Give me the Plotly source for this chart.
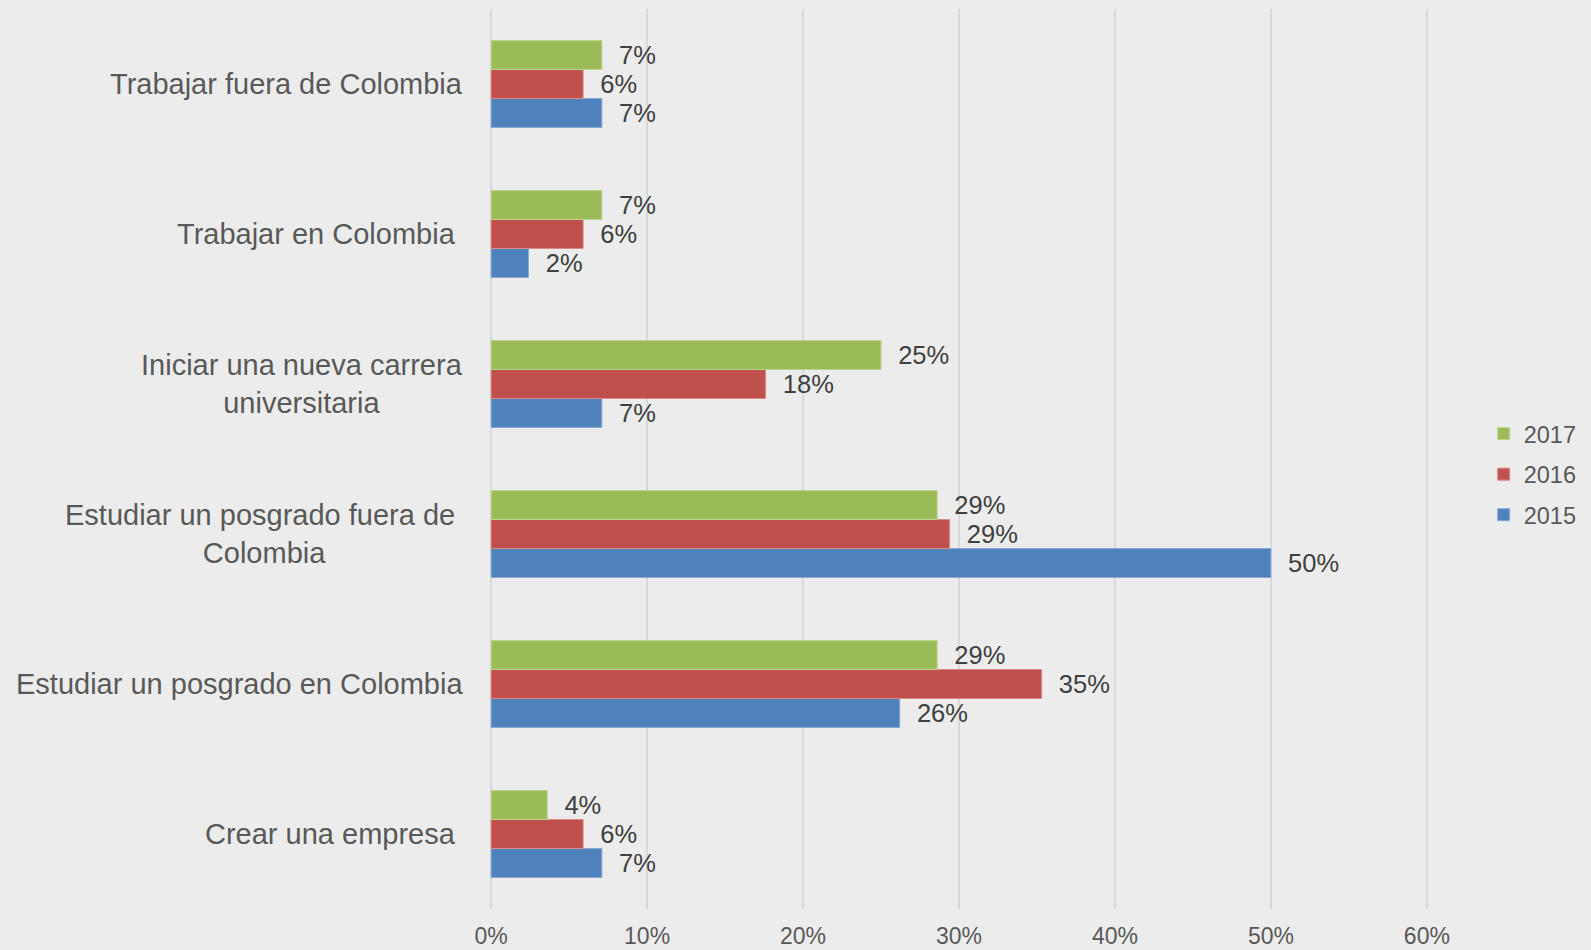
import plotly.graph_objects as go

categories = [
    "Crear una empresa",
    "Estudiar un posgrado en Colombia",
    "Estudiar un posgrado fuera de Colombia",
    "Iniciar una nueva carrera universitaria",
    "Trabajar en Colombia",
    "Trabajar fuera de Colombia",
]
label_text = [
    "Crear una empresa\u00a0",
    "Estudiar un posgrado en Colombia",
    "Estudiar un posgrado fuera de\u00a0<br>Colombia",
    "Iniciar una nueva carrera<br>universitaria",
    "Trabajar en Colombia\u00a0",
    "Trabajar fuera de Colombia",
]
v2015 = [7.1, 26.2, 50.0, 7.1, 2.4, 7.1]
v2016 = [5.9, 35.3, 29.4, 17.6, 5.9, 5.9]
v2017 = [3.6, 28.6, 28.6, 25.0, 7.1, 7.1]
x_ticks = [0, 10, 20, 30, 40, 50, 60]
x_tick_text = ["0%", "10%", "20%", "30%", "40%", "50%", "60%"]

FONT = "Liberation Sans, Arial, sans-serif"
BG = "#ececec"

series = [
    ("2015", v2015, "#4F81BD", "#8aa9d3", 3),
    ("2016", v2016, "#C0504D", "#d88b89", 2),
    ("2017", v2017, "#9BBB59", "#bcd38f", 1),
]

fig = go.Figure()
for name, vals, col, lcol, rank in series:
    fig.add_trace(go.Bar(
        y=categories, x=vals, name=name, orientation="h",
        marker=dict(color=col, line=dict(color=lcol, width=1)),
        text=vals, texttemplate="\u00a0\u00a0%{x:.0f}%",
        textposition="outside", constraintext="none", cliponaxis=False,
        textfont=dict(family=FONT, size=25.5, color="#404040"),
        legendgroup=name, legendrank=rank,
    ))

for cat, lab in zip(categories, label_text):
    fig.add_annotation(
        x=0, y=cat, xref="x", yref="y", text=lab, showarrow=False,
        xanchor="right", yanchor="middle", align="center", xshift=-26,
        font=dict(family=FONT, size=29, color="#595959"),
    )

fig.update_layout(
    width=1591, height=950,
    margin=dict(l=488, r=155, t=9, b=41),
    paper_bgcolor=BG, plot_bgcolor=BG,
    barmode="group", bargap=0.42, bargroupgap=0,
    font=dict(family=FONT, color="#595959"),
    legend=dict(
        traceorder="grouped", tracegroupgap=7,
        x=1.057, xanchor="left", y=0.483, yanchor="middle",
        font=dict(family=FONT, size=23.5, color="#595959"),
        bgcolor="rgba(0,0,0,0)",
    ),
    showlegend=True,
)
fig.update_xaxes(
    range=[-0.2, 60.2], tickvals=x_ticks, ticktext=x_tick_text,
    showgrid=True, gridcolor="#d9d9d9", gridwidth=2,
    zeroline=False, showline=False, ticks="",
    ticklabelstandoff=11,
    tickfont=dict(family=FONT, size=23, color="#595959"),
    automargin=False,
)
fig.update_yaxes(
    categoryorder="array", categoryarray=categories,
    showticklabels=False, showgrid=False, zeroline=False, showline=False,
    automargin=False,
)

fig.write_html(
    "out.html",
    config={"displayModeBar": False},
    post_script="document.body.style.margin='0';document.body.style.overflow='hidden';",
)
